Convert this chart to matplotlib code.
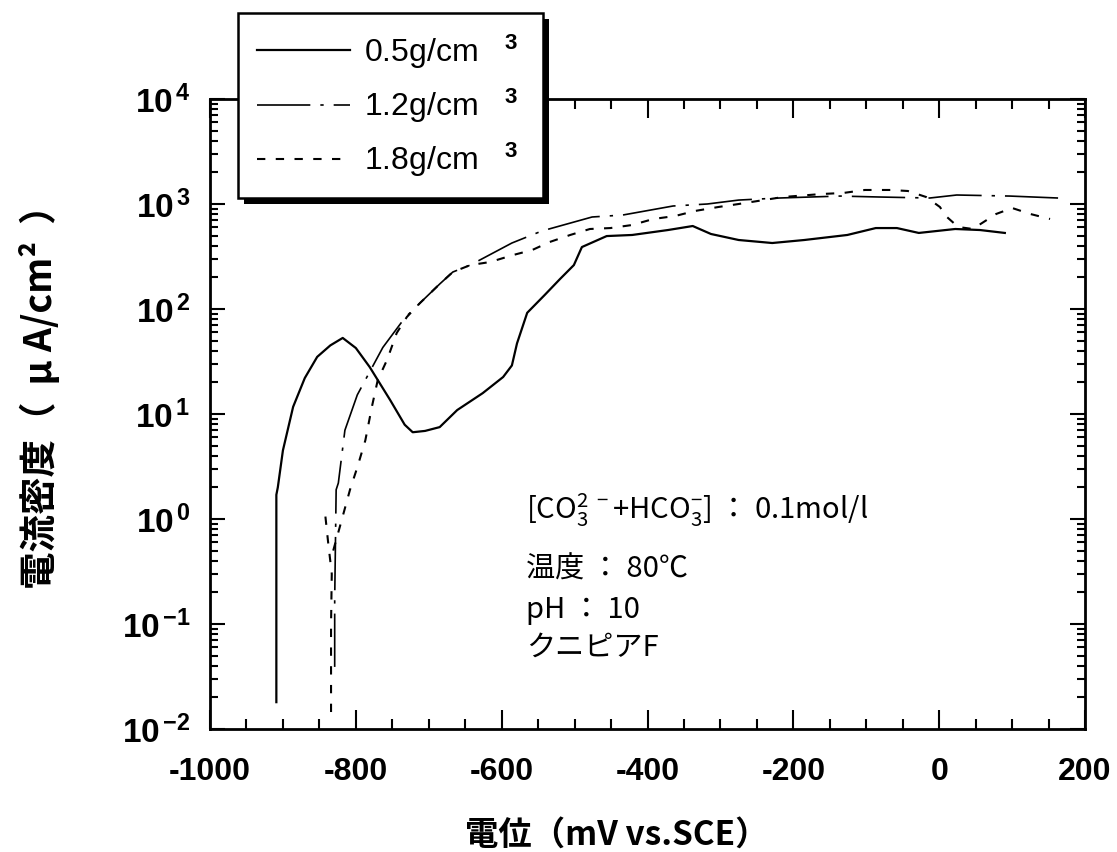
import numpy as np
import matplotlib.pyplot as plt
import matplotlib.patheffects as pe
from matplotlib.ticker import MultipleLocator, LogLocator, NullFormatter, FuncFormatter, FixedLocator

# 0.5 g/cm3 (solid)
solid_x = [-909, -909, -907, -900, -886, -870, -853, -835, -818, -800, -781, -753,
           -733, -722, -705, -685, -661, -626, -598, -586, -579, -565, -541, -520,
           -501, -490, -456, -421, -372, -338, -313, -275, -229, -185, -126, -87,
           -58, -28, 22, 56, 90]
solid_y = [0.018, 1.7, 2.0, 4.5, 11.7, 22, 35, 45, 53, 42.5, 28, 13.6,
           7.9, 6.7, 6.9, 7.5, 10.9, 15.8, 22.5, 29, 47, 92, 136, 193,
           262, 389, 495, 507, 565, 617, 518, 454, 425, 454, 507, 590,
           590, 530, 578, 565, 530]

# 1.2 g/cm3 (long dash)
long_x = [-829, -829, -827, -824, -815, -798, -763, -733, -712, -685, -667, -643,
          -586, -545, -476, -434, -365, -318, -275, -220, -176, -136, -83, -13,
          24, 97, 163]
long_y = [0.039, 0.17, 1.9, 2.2, 7.0, 15.2, 43, 82, 114, 173, 225, 262,
          425, 553, 752, 785, 957, 1000, 1090, 1140, 1166, 1190, 1166, 1140,
          1218, 1190, 1140]

# 1.8 g/cm3 (short dash), nan = pen lift
short_x = [-834, -834, -833, -838, -842, np.nan, -831, -822, -808, -798, -787, -778,
           -770, -757, -744, -730, -712, -685, -667, -643, -616, -584, -558, -534,
           -506, -479, -451, -421, -392, -362, -335, -303, -275, -214, -161, -131,
           -102, -67, -43, -18, 1, 9, 26, 46, 78, 100, 125, 152]
short_y = [0.0145, 0.1, 0.3, 0.6, 1.1, np.nan, 0.5, 0.84, 1.9, 3.1, 5.6, 11.7,
           21, 33, 59, 84, 114, 173, 225, 262, 280, 327, 365, 435,
           507, 578, 590, 631, 720, 769, 858, 936, 1000, 1166, 1245, 1275,
           1360, 1360, 1330, 1166, 936, 769, 604, 578, 803, 916, 803, 720]

labels = ['0.5g/cm   $^{\\mathbf{3}}$', '1.2g/cm   $^{\\mathbf{3}}$', '1.8g/cm   $^{\\mathbf{3}}$']
y_major = [1e-2, 1e-1, 1e0, 1e1, 1e2, 1e3, 1e4]

plt.rcParams['font.family'] = ['Liberation Sans', 'Noto Sans CJK JP']
plt.rcParams['axes.unicode_minus'] = False
plt.rcParams['mathtext.fontset'] = 'custom'
plt.rcParams['mathtext.rm'] = 'Liberation Sans'
plt.rcParams['mathtext.it'] = 'Liberation Sans'
plt.rcParams['mathtext.bf'] = 'Liberation Sans:bold'
plt.rcParams['mathtext.default'] = 'regular'

fig = plt.figure(figsize=(11.17, 8.52), dpi=100)
ax = fig.add_axes([0.188, 0.1444, 0.7834, 0.7394])

l1, = ax.plot(solid_x, solid_y, color='black', lw=1.6)
l2, = ax.plot(long_x, long_y, color='black', lw=1.2, dashes=(32, 6, 2, 6))
l3, = ax.plot(short_x, short_y, color='black', lw=1.5, dashes=(4, 5))

ax.set_yscale('log')
ax.set_xlim(-1000, 200)
ax.set_ylim(1e-2, 1e4)
ax.xaxis.set_major_locator(MultipleLocator(200))
ax.xaxis.set_minor_locator(MultipleLocator(50))
ax.yaxis.set_major_locator(FixedLocator(y_major))
ax.yaxis.set_minor_locator(LogLocator(base=10, subs=np.arange(2, 10), numticks=100))
ax.yaxis.set_minor_formatter(NullFormatter())
ax.yaxis.set_major_formatter(FuncFormatter(
    lambda v, p: r'$\mathbf{10}^{\,\mathbf{%d}}$' % round(np.log10(v))))

ax.tick_params(which='both', direction='in', top=True, right=True, width=1.5)
ax.tick_params(axis='x', which='major', length=14, pad=20, labelsize=23)
ax.tick_params(axis='x', which='minor', length=7)
ax.tick_params(axis='y', which='major', length=11, pad=14, labelsize=24)
ax.tick_params(axis='y', which='minor', length=6)
for lab in ax.get_xticklabels() + ax.get_yticklabels():
    lab.set_fontweight('bold')
for s in ax.spines.values():
    s.set_linewidth(2)

leg = ax.legend([l1, l2, l3], labels, loc='upper left',
                bbox_to_anchor=(0.2131, 0.7676, 0.2731, 0.2171),
                bbox_transform=fig.transFigure, mode='expand', fontsize=23,
                handlelength=2.9, handletextpad=0.45, borderpad=0.6,
                labelspacing=0.5, fancybox=False, edgecolor='black',
                framealpha=1, borderaxespad=0)
leg.get_frame().set_linewidth(1.8)
leg.get_frame().set_path_effects([pe.SimplePatchShadow(offset=(4, -4), shadow_rgbFace='black', alpha=1),
                                  pe.Normal()])

jp = ['Noto Sans CJK JP', 'DejaVu Sans']
tx = 526 / 1117
fig.text(tx, 1 - 510 / 852, r'[CO$_{3}^{2\ -}$+HCO$_{3}^{-}$] ： 0.1mol/l',
         fontsize=21, family=jp, va='center')
fig.text(tx, 1 - 570 / 852, '温度 ： 80℃', fontsize=21, family=jp, va='center')
fig.text(tx, 1 - 610 / 852, 'pH ： 10', fontsize=21, family=jp, va='center')
fig.text(tx, 1 - 648 / 852, 'クニピアF', fontsize=21, family=jp, va='center')

fig.text(617 / 1117, 1 - 835 / 852, '電位（mV vs.SCE）', fontsize=24,
         fontweight='bold', family=jp, ha='center', va='center')
fig.text(40 / 1117, 1 - 388 / 852, '電流密度（  μ A/cm²  ）', fontsize=27,
         fontweight='bold', family=jp, rotation=90, ha='center', va='center')

fig.savefig('out.png', dpi=100)
